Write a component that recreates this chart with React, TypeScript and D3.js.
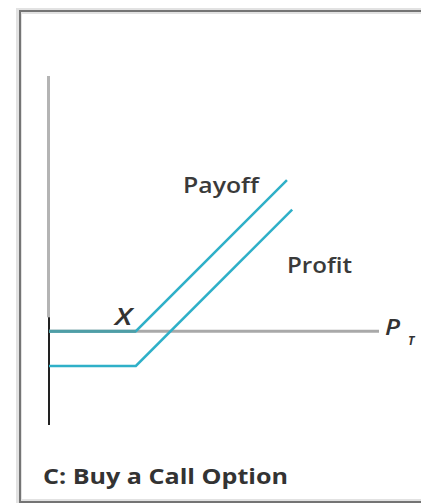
import React, { useEffect, useRef } from 'react';
import * as d3 from 'd3';

// price at expiration (P_T) and the two strategy lines
const prices = [0, 50, 137];
const payoff = [0, 0, 87];
const profitPrices = [0, 50, 140];
const profit = [-20, -20, 70];

const strikeLabel = 'X';
const title = 'C: Buy a Call Option';

const width = 421,
  height = 503;

export default function App() {
  const ref = useRef<SVGSVGElement>(null);

  useEffect(() => {
    const svg = d3.select(ref.current).attr('width', width).attr('height', height);
    svg.selectAll('*').remove();

    const xScale = d3.scaleLinear().domain([0, 190]).range([49, 379]);
    const yScale = d3.scaleLinear().domain([-54, 147]).range([425, 76]);

    // frame (right edge runs off the page) with a soft shadow on the left
    svg.append('path').attr('d', 'M430,11H20V502H430').attr('fill', 'none')
      .attr('stroke', '#e2e2e2').attr('stroke-width', 6).attr('transform', 'translate(-1,0)');
    svg.append('path').attr('d', 'M430,11H20V502H430').attr('fill', 'none')
      .attr('stroke', '#747474').attr('stroke-width', 2);

    // axes
    svg.append('line').attr('x1', xScale(0) - 0.5).attr('x2', xScale(0) - 0.5).attr('y1', yScale(147)).attr('y2', yScale(8))
      .attr('stroke', '#b4b4b4').attr('stroke-width', 3);
    svg.append('line').attr('x1', xScale(0)).attr('x2', xScale(0)).attr('y1', yScale(8)).attr('y2', yScale(-54))
      .attr('stroke', '#222').attr('stroke-width', 2);
    svg.append('line').attr('x1', xScale(0)).attr('x2', xScale(190)).attr('y1', yScale(0)).attr('y2', yScale(0))
      .attr('stroke', '#a9a9a9').attr('stroke-width', 3);

    const line = d3.line<[number, number]>().x(d => xScale(d[0])).y(d => yScale(d[1]));
    const payoffPts = prices.map((p, i) => [p, payoff[i]] as [number, number]);
    const profitPts = profitPrices.map((p, i) => [p, profit[i]] as [number, number]);

    svg.append('path').attr('d', line(payoffPts)).attr('fill', 'none').attr('stroke', '#2fb0c8').attr('stroke-width', 2.5);
    svg.append('path').attr('d', line(profitPts)).attr('fill', 'none').attr('stroke', '#2fb0c8').attr('stroke-width', 2.5);
    // flat part of payoff sits on the axis and looks darker
    svg.append('line').attr('x1', xScale(0)).attr('x2', xScale(50)).attr('y1', yScale(0)).attr('y2', yScale(0))
      .attr('stroke', '#4f9ea6').attr('stroke-width', 3);

    const font = "'Open Sans', sans-serif";
    svg.append('text').attr('x', 183).attr('y', 193).attr('textLength', 76).attr('lengthAdjust', 'spacingAndGlyphs')
      .style('font-family', font).style('font-size', '22px').style('font-weight', 600).style('fill', '#3a3a3a').text('Payoff');
    svg.append('text').attr('x', 287).attr('y', 273).attr('textLength', 65).attr('lengthAdjust', 'spacingAndGlyphs')
      .style('font-family', font).style('font-size', '22px').style('font-weight', 600).style('fill', '#3a3a3a').text('Profit');
    svg.append('text').attr('x', 115).attr('y', 325).attr('textLength', 17).attr('lengthAdjust', 'spacingAndGlyphs')
      .style('font-family', font).style('font-size', '23px').style('font-weight', 600)
      .style('font-style', 'italic').style('fill', '#333').text(strikeLabel);

    svg.append('text').attr('x', 385).attr('y', 335).attr('textLength', 15).attr('lengthAdjust', 'spacingAndGlyphs')
      .style('font-family', font).style('font-size', '22px')
      .style('font-weight', 600).style('font-style', 'italic').style('fill', '#333').text('P');
    svg.append('text').attr('x', 408).attr('y', 345).style('font-family', font).style('font-size', '12px')
      .style('font-weight', 700).style('font-style', 'italic').style('fill', '#333').text('T');

    svg.append('text').attr('x', 43).attr('y', 484).attr('textLength', 245).attr('lengthAdjust', 'spacingAndGlyphs')
      .style('font-family', font).style('font-size', '22px').style('font-weight', 700).style('fill', '#333').text(title);
  }, []);

  return <svg ref={ref} style={{ position: 'absolute', left: 0, top: 0 }}></svg>;
}
